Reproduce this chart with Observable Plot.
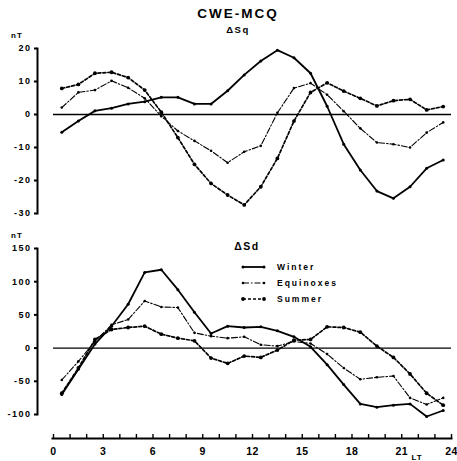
<!DOCTYPE html>
<html>
<head>
<meta charset="utf-8">
<script src="https://cdn.jsdelivr.net/npm/d3@7"></script>
<script src="https://cdn.jsdelivr.net/npm/@observablehq/plot@0.6"></script>
<style>
  body { margin: 0; background: #fff; }
  #chart { position: relative; width: 457px; height: 461px; overflow: hidden;
           font-family: "Liberation Sans", Arial, sans-serif; }
  #chart > svg { position: absolute; left: 0; }
  #overlay { pointer-events: none; }
</style>
</head>
<body>
<div id="chart"></div>
<script>
// Local time (hour centres) at which the hourly means are plotted
const hours = [0.5, 1.5, 2.5, 3.5, 4.5, 5.5, 6.5, 7.5, 8.5, 9.5, 10.5, 11.5,
               12.5, 13.5, 14.5, 15.5, 16.5, 17.5, 18.5, 19.5, 20.5, 21.5, 22.5, 23.5];

const seasons = ["Winter", "Equinoxes", "Summer"];

// ΔSq, CWE minus MCQ (nT)
const sqWinter    = [-5.4, -2, 1.1, 1.9, 3.2, 3.9, 5.2, 5.2, 3.2, 3.2, 7.2, 12,
                     16.2, 19.5, 17.2, 12.5, 2.5, -9, -16.8, -23.2, -25.4, -21.9, -16.3, -13.8];
const sqEquinoxes = [2.1, 6.7, 7.4, 10.2, 8.1, 4.9, -0.5, -5, -8, -11, -14.6, -11.3,
                     -9.5, 0.5, 8, 9.5, 6, 1, -4.2, -8.5, -9, -10, -5.5, -2.4];
const sqSummer    = [7.9, 9.1, 12.5, 12.8, 11.2, 7.4, 0.7, -7, -15.1, -20.9, -24.4, -27.4,
                     -21.9, -13.3, -2, 6.7, 9.6, 7.1, 4.9, 2.6, 4.2, 4.6, 1.4, 2.4];

// ΔSd, CWE minus MCQ (nT)
const sdWinter    = [-70, -32, 6, 33, 66, 114, 118, 88, 54, 22, 33, 31,
                     32, 26, 17, 2, -25, -55, -84, -89, -86, -84, -103, -94];
const sdEquinoxes = [-48, -20, 10, 35, 43, 71, 62, 61, 23, 18, 15, 17,
                     5, 3, 10, 7, -9, -30, -47, -44, -42, -75, -85, -75];
const sdSummer    = [-68, -30, 13, 28, 31, 33, 21, 15, 11, -15, -23, -12,
                     -14, -3, 12, 13, 32, 31, 24, 3, -14, -39, -68, -86];

// Axis ticks
const sqTicks = [-30, -20, -10, 0, 10, 20];
const sdTicks = [-100, -50, 0, 50, 100, 150];
const hourTicks = [0, 1, 2, 3, 4, 5, 6, 7, 8, 9, 10, 11, 12, 13, 14, 15, 16, 17, 18, 19, 20, 21, 22, 23, 24];
const hourLabels = [0, 3, 6, 9, 12, 15, 18, 21, 24];

const styles = {
  Winter:    {dash: null,            width: 1.8, r: 1.5},
  Equinoxes: {dash: "6,2,1.5,2",     width: 1.1, r: 1.3},
  Summer:    {dash: "3,2",           width: 1.7, r: 1.9}
};

function rows(bySeason) {
  return seasons.flatMap(s => hours.map((h, i) => ({season: s, lt: h, value: bySeason[s][i]})));
}

const W = 457;
const font = {fontFamily: "'Liberation Sans', Arial, sans-serif", fontWeight: "bold",
              fontSize: "9px", letterSpacing: "1.5px", background: "transparent", overflow: "visible"};

function panel({data, yDomain, yTicks, height, marginTop, marginBottom}) {
  const marks = [
    Plot.frame({anchor: "left", strokeWidth: 2}),
    Plot.axisY({ticks: yTicks, tickSize: 3, tickPadding: 3, tickFormat: d => String(d),
                strokeWidth: 2, label: null}),
    Plot.ruleY([0], {x1: 0, x2: 24, strokeWidth: 1.4})
  ];
  for (const s of seasons) {
    const d = data.filter(r => r.season === s);
    const st = styles[s];
    marks.push(Plot.line(d, {x: "lt", y: "value", stroke: "#000", strokeWidth: st.width,
                             strokeDasharray: st.dash, curve: "linear"}));
    marks.push(Plot.dot(d, {x: "lt", y: "value", r: st.r, fill: "#000", stroke: "none"}));
  }
  return Plot.plot({
    width: W, height, marginTop, marginBottom, marginLeft: 37, marginRight: 6,
    x: {domain: [0, 24], insetLeft: 16, axis: null},
    y: {domain: yDomain, label: null},
    style: font,
    marks
  });
}

const chart = document.getElementById("chart");

const sqPanel = panel({
  data: rows({Winter: sqWinter, Equinoxes: sqEquinoxes, Summer: sqSummer}),
  yDomain: [-30, 20], yTicks: sqTicks, height: 225, marginTop: 48, marginBottom: 12
});
sqPanel.style.top = "0px";
chart.appendChild(sqPanel);

const sdPanel = panel({
  data: rows({Winter: sdWinter, Equinoxes: sdEquinoxes, Summer: sdSummer}),
  yDomain: [-100, 150], yTicks: sdTicks, height: 200, marginTop: 23, marginBottom: 11
});
sdPanel.style.top = "225px";
chart.appendChild(sdPanel);

// Shared local-time axis below the two panels
const ltAxis = Plot.plot({
  width: W, height: 36, marginTop: 0, marginBottom: 23, marginLeft: 52, marginRight: 6,
  x: {domain: [0, 24], insetLeft: 1, label: null},
  style: {...font, fontSize: "10.5px", letterSpacing: "0.5px"},
  marks: [
    Plot.frame({anchor: "bottom", strokeWidth: 2}),
    Plot.axisX({ticks: hourTicks, tickSize: -4, tickPadding: 13, strokeWidth: 1.4, label: null,
                tickFormat: d => hourLabels.includes(d) ? String(d) : ""})
  ]
});
ltAxis.style.top = "425px";
chart.appendChild(ltAxis);

// Titles, unit labels and legend
const ov = d3.select(chart).append("svg").attr("id", "overlay")
  .attr("width", W).attr("height", 461).style("top", "0px")
  .style("font-family", "'Liberation Sans', Arial, sans-serif").style("font-weight", "bold");

ov.append("text").attr("x", 238).attr("y", 18).attr("text-anchor", "middle")
  .attr("font-size", 13.5).attr("letter-spacing", 2).text("CWE-MCQ");
ov.append("text").attr("x", 238).attr("y", 33).attr("text-anchor", "middle")
  .attr("font-size", 9.5).attr("letter-spacing", 1.5).text("ΔSq");
ov.append("text").attr("x", 247).attr("y", 250).attr("text-anchor", "middle")
  .attr("font-size", 10.5).attr("letter-spacing", 1.5).text("ΔSd");
ov.append("text").attr("x", 17).attr("y", 38).attr("text-anchor", "middle")
  .attr("font-size", 8).attr("letter-spacing", 1).text("nT");
ov.append("text").attr("x", 17).attr("y", 238).attr("text-anchor", "middle")
  .attr("font-size", 8).attr("letter-spacing", 1).text("nT");
ov.append("text").attr("x", 417).attr("y", 460).attr("text-anchor", "middle")
  .attr("font-size", 8).attr("letter-spacing", 1).text("LT");

const legend = ov.append("g").attr("transform", "translate(243,267)");
seasons.forEach((s, i) => {
  const g = legend.append("g").attr("transform", `translate(0,${i * 16})`);
  const st = styles[s];
  g.append("line").attr("x1", 0).attr("x2", 21).attr("y1", 0).attr("y2", 0)
    .attr("stroke", "#000").attr("stroke-width", st.width)
    .attr("stroke-dasharray", st.dash);
  [0, 21].forEach(x => g.append("circle").attr("cx", x).attr("cy", 0).attr("r", st.r));
  g.append("text").attr("x", 34).attr("y", 3).attr("font-size", 8.5)
    .attr("letter-spacing", 2).text(s);
});
</script>
</body>
</html>
